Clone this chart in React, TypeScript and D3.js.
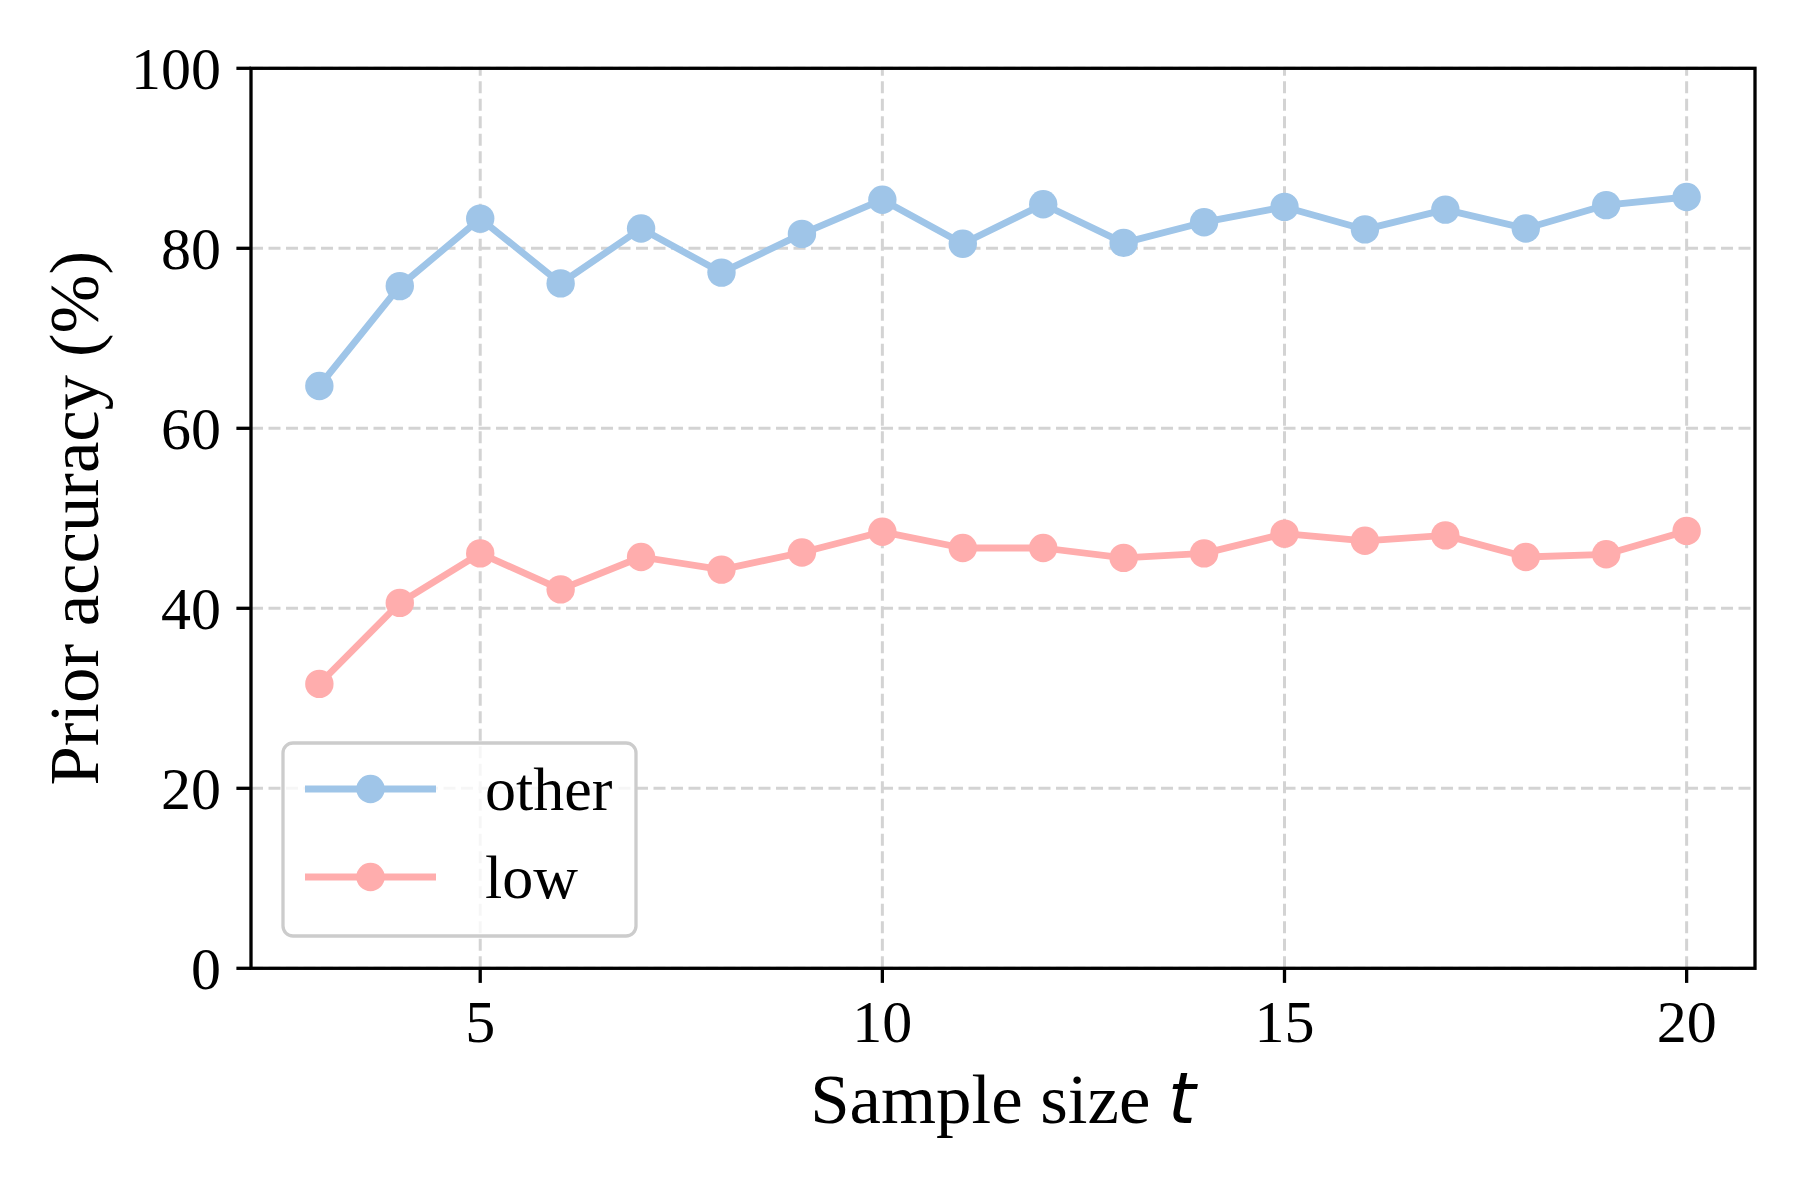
import React from "react";
import * as d3 from "d3";

const sampleSizes = [3, 4, 5, 6, 7, 8, 9, 10, 11, 12, 13, 14, 15, 16, 17, 18, 19, 20];
const otherAcc = [64.7, 75.8, 83.3, 76.1, 82.2, 77.3, 81.6, 85.4, 80.5, 84.9, 80.6, 82.9, 84.6, 82.1, 84.3, 82.2, 84.8, 85.7];
const lowAcc = [31.6, 40.6, 46.1, 42.1, 45.7, 44.3, 46.2, 48.5, 46.7, 46.7, 45.6, 46.1, 48.3, 47.5, 48.1, 45.7, 46.0, 48.6];
const xTicks = [5, 10, 15, 20];
const yTicks = [0, 20, 40, 60, 80, 100];
const seriesNames = ["other", "low"];
const seriesColors = ["#9fc5e8", "#ffadad"];

const W = 1800;
const H = 1200;
const L = 251, R = 1755, T = 68.3, B = 968.3;
const FONT = "'Liberation Serif', 'Times New Roman', serif";

export default function App() {
  const x = d3.scaleLinear().domain([2.15, 20.85]).range([L, R]);
  const y = d3.scaleLinear().domain([0, 100]).range([B, T]);
  const series = [otherAcc, lowAcc];
  const line = d3
    .line<number>()
    .x((_, i) => x(sampleSizes[i]))
    .y((d) => y(d));

  const grid = { stroke: "#d3d3d3", strokeWidth: 3, strokeDasharray: "12 5.5" };

  return (
    <svg width={W} height={H} style={{ display: "block", margin: -8 }} xmlns="http://www.w3.org/2000/svg">
      <rect x={0} y={0} width={W} height={H} fill="#fff" />
      {xTicks.map((t) => (
        <line key={"gx" + t} x1={x(t)} x2={x(t)} y1={B} y2={T} {...grid} />
      ))}
      {yTicks.map((t) => (
        <line key={"gy" + t} x1={L} x2={R} y1={y(t)} y2={y(t)} {...grid} />
      ))}
      {series.map((s, si) => (
        <g key={"s" + si}>
          <path d={line(s) || ""} fill="none" stroke={seriesColors[si]} strokeWidth={6.8} strokeLinejoin="round" />
          {s.map((v, i) => (
            <circle key={i} cx={x(sampleSizes[i])} cy={y(v)} r={14.2} fill={seriesColors[si]} />
          ))}
        </g>
      ))}
      <rect x={L} y={T} width={R - L} height={B - T} fill="none" stroke="#000" strokeWidth={3.3} />
      {xTicks.map((t) => (
        <g key={"xt" + t}>
          <line x1={x(t)} x2={x(t)} y1={B} y2={B + 14.6} stroke="#000" strokeWidth={3.3} />
          <text x={x(t)} y={1041.5} textAnchor="middle" fontFamily={FONT} fontSize={60} fill="#000">
            {t}
          </text>
        </g>
      ))}
      {yTicks.map((t) => (
        <g key={"yt" + t}>
          <line x1={L - 14.6} x2={L} y1={y(t)} y2={y(t)} stroke="#000" strokeWidth={3.3} />
          <text x={221} y={y(t) + 20.5} textAnchor="end" fontFamily={FONT} fontSize={60} fill="#000">
            {t}
          </text>
        </g>
      ))}
      <text x={(L + R) / 2} y={1123} textAnchor="middle" fontFamily={FONT} fontSize={70.8} fill="#000">
        Sample size{" "}
        <tspan fontFamily="'DejaVu Sans', sans-serif" fontStyle="italic">
          t
        </tspan>
      </text>
      <text
        transform={`translate(98, ${(T + B) / 2}) rotate(-90)`}
        textAnchor="middle"
        fontFamily={FONT}
        fontSize={70.8}
        fill="#000"
      >
        Prior accuracy (%)
      </text>
      <g>
        <rect x={283} y={743} width={353} height={193} rx={10} ry={10} fill="#fff" fillOpacity={0.8} stroke="#cccccc" strokeWidth={3.3} />
        {seriesNames.map((n, i) => {
          const cy = 789 + i * 88;
          return (
            <g key={"lg" + n}>
              <line x1={305} x2={436} y1={cy} y2={cy} stroke={seriesColors[i]} strokeWidth={6.8} />
              <circle cx={370.5} cy={cy} r={14.2} fill={seriesColors[i]} />
              <text x={485} y={cy + 21} fontFamily={FONT} fontSize={62} fill="#000">
                {n}
              </text>
            </g>
          );
        })}
      </g>
    </svg>
  );
}
